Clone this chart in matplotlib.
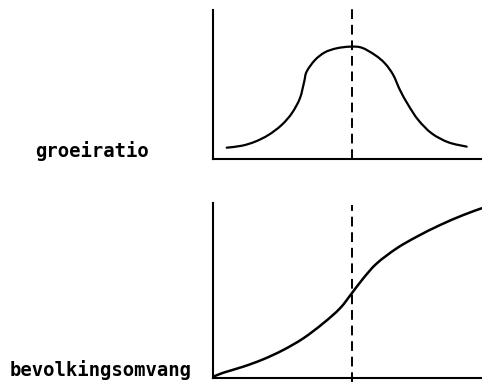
import numpy as np
import matplotlib
matplotlib.use("Agg")
import matplotlib.pyplot as plt
from matplotlib.path import Path
from matplotlib.patches import PathPatch

# (x: time 0-100, y: 0-100 within each panel)
groei_x = [5.1, 10.7, 15.6, 20.6, 25.5, 29.3, 32.3, 33.9, 34.8, 37.9, 41.6, 46.0,
           51.0, 55.3, 60.2, 63.9, 67.0, 69.5, 72.6, 76.3, 81.3, 87.5, 94.3]
groei_y = [7.6, 8.9, 11.6, 16.1, 22.8, 30.7, 40.7, 51.9, 58.6, 66.4, 71.6, 74.3,
           75.4, 74.7, 69.8, 64.2, 56.4, 46.3, 36.2, 26.2, 17.2, 11.2, 8.3]

omvang_x = [0.1, 3.8, 11.3, 18.7, 26.1, 33.6, 41.0, 47.2, 51.6, 55.9, 60.9,
            68.3, 75.7, 84.4, 93.0, 99.9]
omvang_y = [0.7, 3.0, 6.5, 10.7, 16.0, 22.7, 31.3, 39.8, 48.4, 57.0, 65.5,
            74.1, 80.7, 87.4, 93.1, 97.0]

keerpunt = 51.7
labels = ["groeiratio", "bevolkingsomvang"]

W, H = 482, 387
fig = plt.figure(figsize=(W / 100, H / 100), dpi=100)

def px_axes(left, right, top, bottom):
    return fig.add_axes([left / W, (H - bottom) / H, (right - left) / W, (bottom - top) / H])

def smooth_curve(ax, xs, ys, lw):
    # catmull-rom through the read points, drawn as bezier segments
    p = np.column_stack([xs, ys])
    p = np.vstack([p[0], p, p[-1]])
    verts = [tuple(p[1])]
    codes = [Path.MOVETO]
    for i in range(1, len(p) - 2):
        c1 = p[i] + (p[i + 1] - p[i - 1]) / 6
        c2 = p[i + 1] - (p[i + 2] - p[i]) / 6
        verts += [tuple(c1), tuple(c2), tuple(p[i + 1])]
        codes += [Path.CURVE4] * 3
    ax.add_patch(PathPatch(Path(verts, codes), fill=False, edgecolor="black",
                           lw=lw, capstyle="round", joinstyle="round"))

ax1 = px_axes(213, 482, 10, 159)
ax2 = px_axes(213, 482, 203, 378)

for ax in (ax1, ax2):
    ax.set_xlim(0, 100)
    ax.set_ylim(0, 100)
    ax.set_xticks([])
    ax.set_yticks([])
    for s in ("top", "right"):
        ax.spines[s].set_visible(False)
    for s in ("left", "bottom"):
        ax.spines[s].set_linewidth(1.5)
        ax.spines[s].set_color("black")
    ax.patch.set_alpha(0)

smooth_curve(ax1, groei_x, groei_y, 1.6)
smooth_curve(ax2, omvang_x, omvang_y, 1.8)

ax1.axvline(keerpunt, ymin=0, ymax=1.007, color="black", lw=1.4,
            dashes=(5, 3), clip_on=False)
ax2.axvline(keerpunt, ymin=-0.023, ymax=0.989, color="black", lw=1.4,
            dashes=(5, 3), clip_on=False)

txt = dict(family=["DejaVu Sans Mono"], fontweight="bold", fontsize=13.6,
           va="baseline", ha="left")
fig.text(35 / W, (H - 157) / H, labels[0], **txt)
fig.text(10 / W, (H - 376) / H, labels[1], **txt)

fig.savefig("out.png", dpi=100)
